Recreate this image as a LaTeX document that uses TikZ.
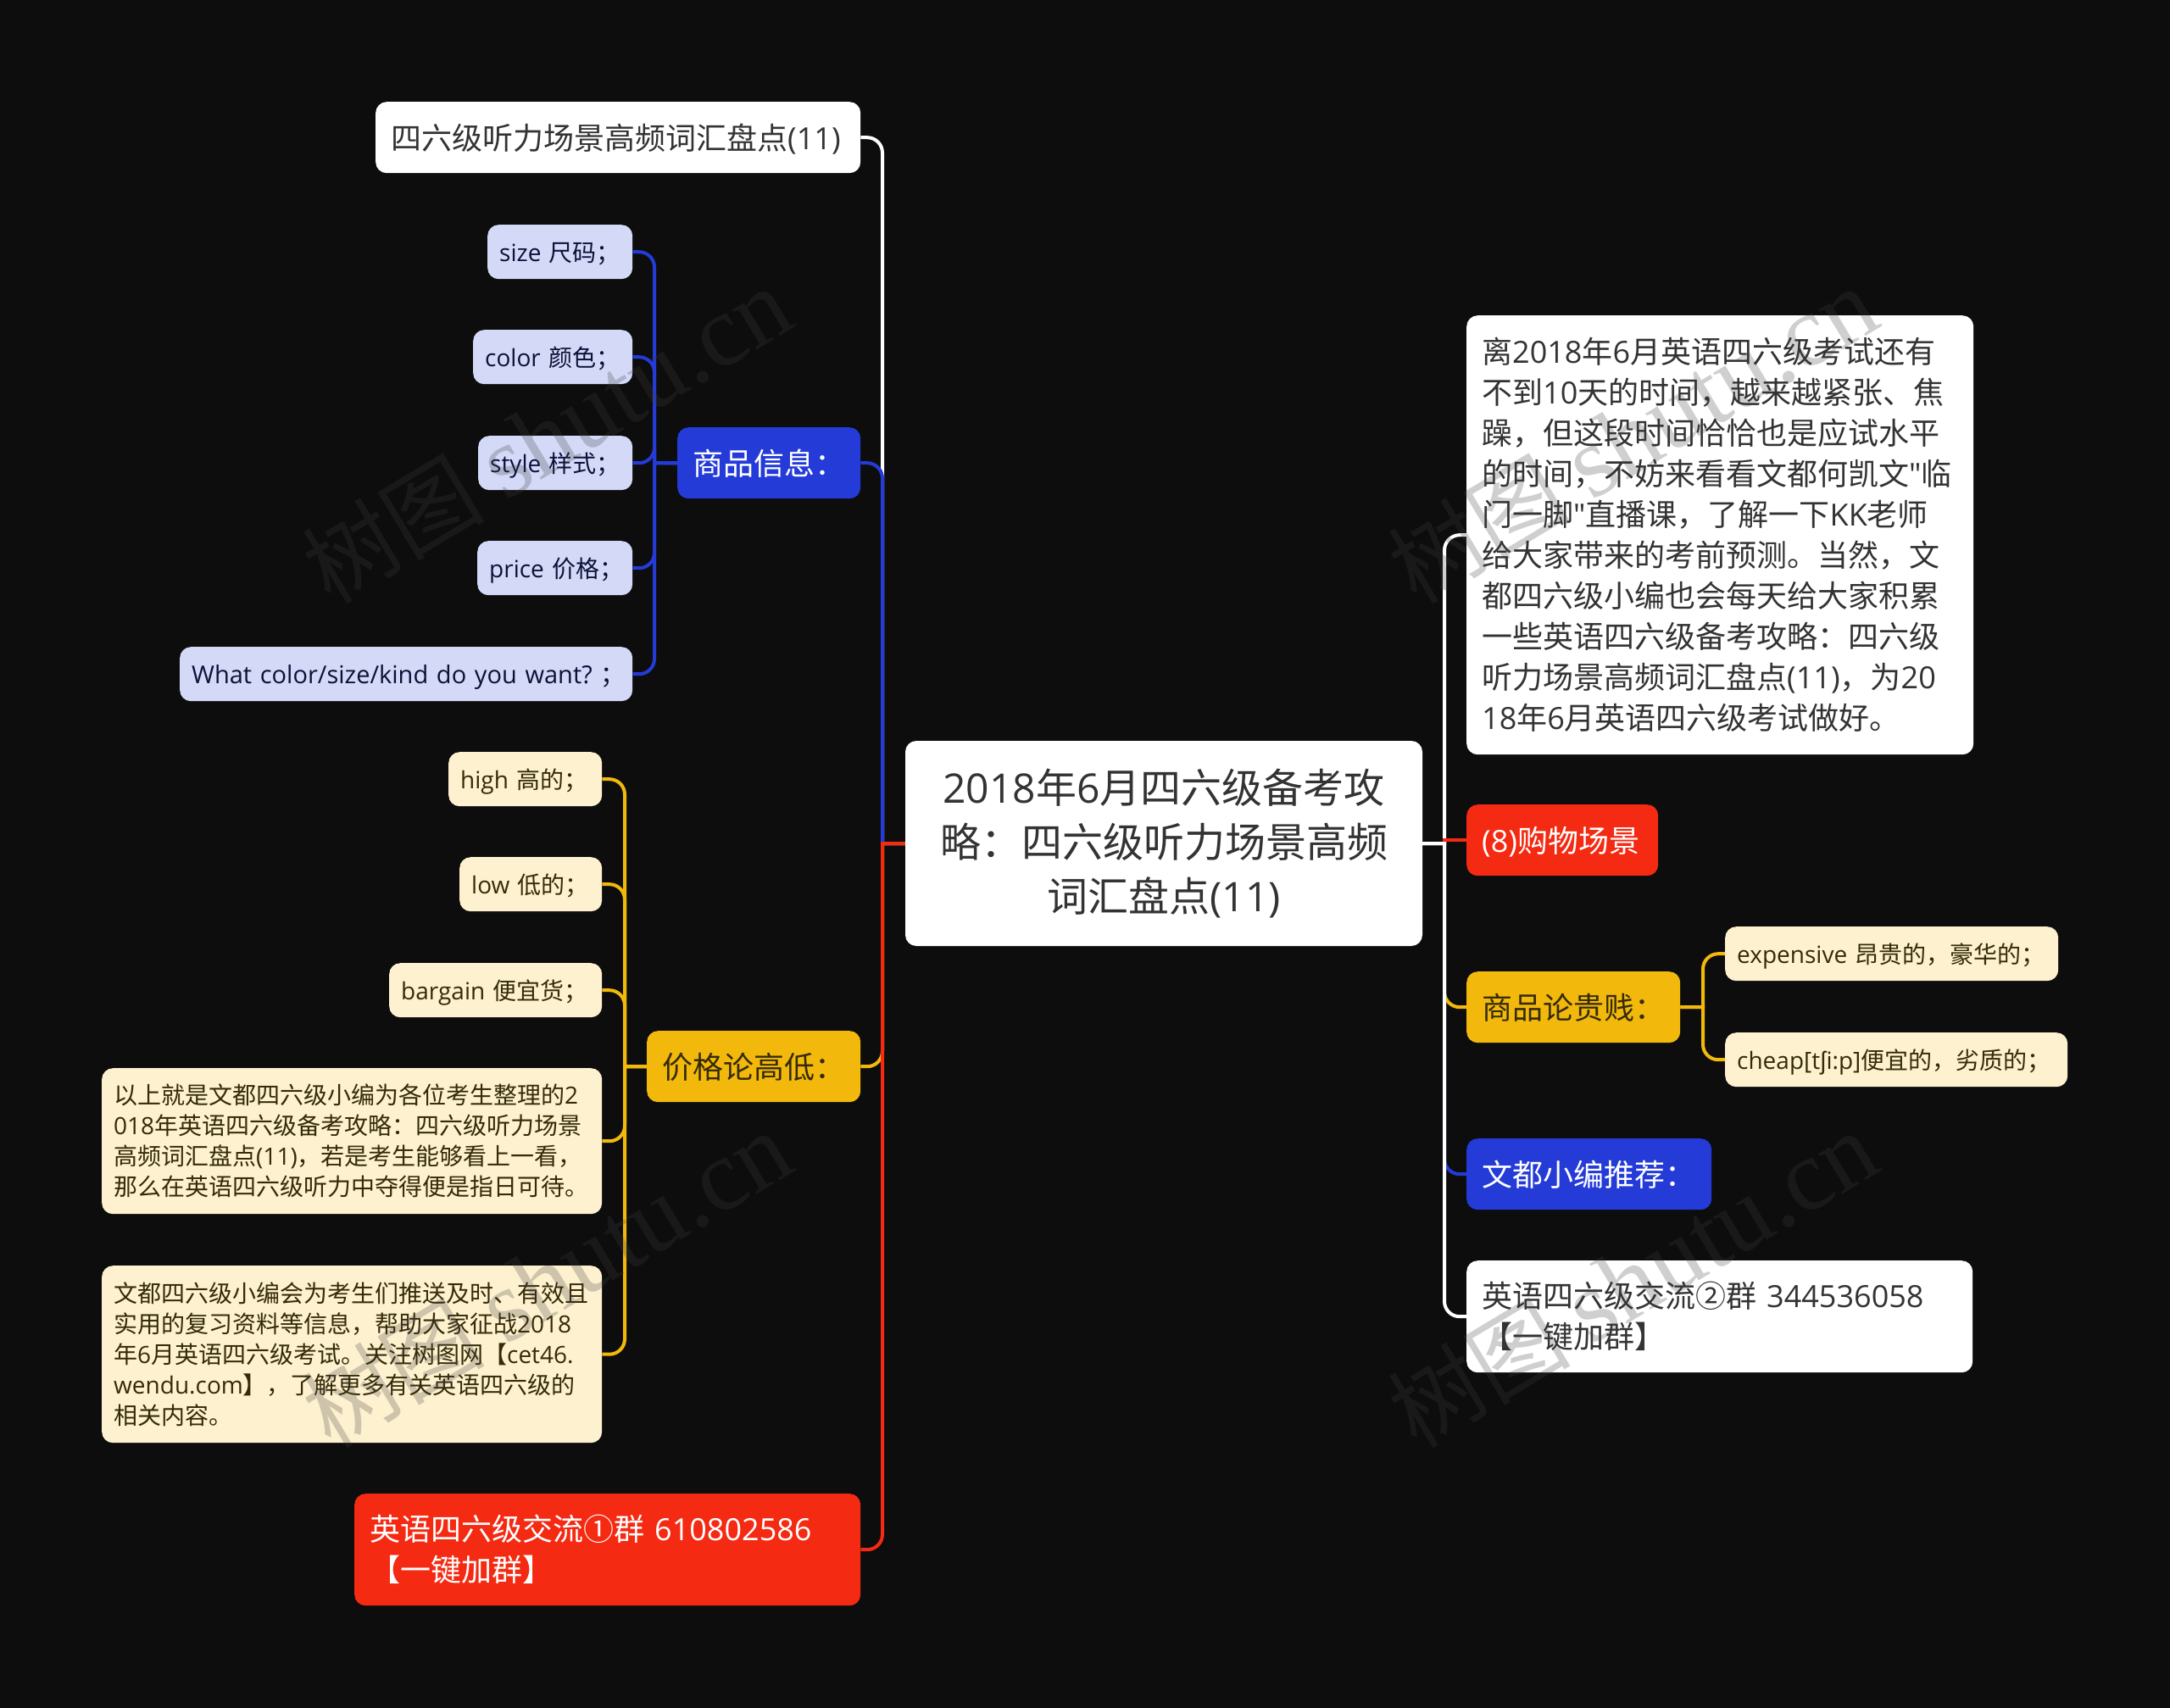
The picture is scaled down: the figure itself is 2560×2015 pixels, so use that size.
\documentclass[tikz,border=0pt]{standalone}
\usepackage{fontspec}
\setmainfont{Noto Sans CJK SC}
\newfontfamily\enfont[Ligatures=TeXReset]{Open Sans}
\newfontfamily\ipafont{Noto Sans}
\newfontfamily\markfont{Liberation Serif}
\usetikzlibrary{positioning,calc}
\definecolor{bgblack}{HTML}{0D0D0D}
\definecolor{mapblue}{HTML}{243BD8}
\definecolor{mapred}{HTML}{F42A12}
\definecolor{mapyellow}{HTML}{F2B90C}
\definecolor{leafblue}{HTML}{D3D9F7}
\definecolor{leafyellow}{HTML}{FDF1CF}
\definecolor{inkgrey}{HTML}{333333}
\definecolor{inkblue}{HTML}{0C1138}
\definecolor{inkbrown}{HTML}{352B08}
\definecolor{markgrey}{HTML}{404040}
\tikzset{
  mapbox/.style={rounded corners=13pt, anchor=north west, align=left, inner ysep=0pt, inner xsep=18pt,
    execute at begin node={\rule[-.22em]{0pt}{.98em}}},
  oneline/.style={execute at begin node={\rule{0pt}{1.04em}}},
  bigtext/.style={font=\fontsize{36pt}{48pt}\selectfont, minimum height=84pt},
  whitebox/.style={mapbox, bigtext, fill=white, text=inkgrey},
  bluebox/.style={mapbox, bigtext, fill=mapblue, text=white},
  redbox/.style={mapbox, bigtext, fill=mapred, text=white},
  yellowbox/.style={mapbox, bigtext, fill=mapyellow, text=inkbrown},
  leaf/.style={mapbox, inner xsep=14pt, font=\fontsize{28pt}{36pt}\selectfont, minimum height=64pt},
  blueleaf/.style={leaf, oneline, fill=leafblue, text=inkblue},
  yellowleaf/.style={leaf, fill=leafyellow, text=inkbrown},
  link/.style={line width=4pt},
  elbow/.style={rounded corners=18pt},
  watermark/.style={rotate=31, text=markgrey, opacity=0.25, font=\fontsize{108pt}{120pt}\selectfont}
}
\newcommand{\en}[1]{{\enfont #1}}
\newcommand{\markname}{树图 {\markfont\fontsize{120pt}{120pt}\selectfont shutu.cn}}
\begin{document}
\begin{tikzpicture}[x=1pt,y=-1pt]
    \fill[bgblack] (0,0) rectangle (2560,2015);
    \useasboundingbox (0,0) rectangle (2560,2015);

    % Root
    \node[whitebox, anchor=center, align=center, text width=574pt, minimum height=242pt, font=\fontsize{48pt}{64pt}\selectfont] (rootnode) at (1373,995)
        {\en{2018}年\en{6}月四六级备考攻\\略：四六级听力场景高频\\词汇盘点\en{(11)}};
    \coordinate (leftspine) at (1041,995);
    \coordinate (rightspine) at (1704,995);

    % Left side
    \node[whitebox, oneline, text width=536pt] (titlenode) at (443,120) {四六级听力场景高频词汇盘点\en{(11)}};
    \node[bluebox, oneline, text width=180pt] (infonode) at (799,504) {商品信息：};
    \node[yellowbox, oneline, text width=216pt] (pricenode) at (763,1216) {价格论高低：};
    \node[redbox, text width=561pt, minimum height=132pt] (groupone) at (418,1762)
        {英语四六级交流①群 \en{610802586}\\【一键加群】};

    % Product leaves
    \coordinate (bluespine) at (772,546);
    \node[blueleaf, text width=143pt] (kidsize) at (575,265) {\en{size}~尺码；};
    \node[blueleaf, text width=160pt] (kidcolor) at (558,389) {\en{color}~颜色；};
    \node[blueleaf, text width=154pt] (kidstyle) at (564,514) {\en{style}~样式；};
    \node[blueleaf, text width=155pt] (kidprice) at (563,638) {\en{price}~价格；};
    \node[blueleaf, text width=506pt, font=\fontsize{29pt}{36pt}\selectfont] (kidwant) at (212,763) {\mbox{\en{What color/size/kind do you want?}~；}};

    % Price leaves
    \coordinate (yellowspine) at (737,1258);
    \node[yellowleaf, oneline, text width=153pt] (kidhigh) at (529,887) {\en{high}~高的；};
    \node[yellowleaf, oneline, text width=140pt] (kidlow) at (542,1011) {\en{low}~低的；};
    \node[yellowleaf, oneline, text width=223pt] (kidbargain) at (459,1136) {\en{bargain}~便宜货；};
    \node[yellowleaf, text width=562pt, minimum height=172pt] (kidsummary) at (120,1260)
        {以上就是文都四六级小编为各位考生整理的\en{2}\\\en{018}年英语四六级备考攻略：四六级听力场景\\高频词汇盘点\en{(11)}，若是考生能够看上一看，\\那么在英语四六级听力中夺得便是指日可待。};
    \node[yellowleaf, text width=562pt, minimum height=209pt] (kidnotice) at (120,1493)
        {文都四六级小编会为考生们推送及时、有效且\\实用的复习资料等信息，帮助大家征战\en{2018}\\年\en{6}月英语四六级考试。关注树图网【\en{cet46.}\\\en{wendu.com}】，了解更多有关英语四六级的\\相关内容。};

    % Right side
    \node[whitebox, text width=562pt, minimum height=518pt] (intronode) at (1730,372)
        {离\en{2018}年\en{6}月英语四六级考试还有\\不到\en{10}天的时间，越来越紧张、焦\\躁，但这段时间恰恰也是应试水平\\的时间，不妨来看看文都何凯文\en{"}临\\门一脚\en{"}直播课，了解一下\en{KK}老师\\给大家带来的考前预测。当然，文\\都四六级小编也会每天给大家积累\\一些英语四六级备考攻略：四六级\\听力场景高频词汇盘点\en{(11)}，为\en{20}\\\en{18}年\en{6}月英语四六级考试做好。};
    \node[redbox, oneline, text width=190pt] (scenenode) at (1730,949) {\en{(8)}购物场景};
    \node[yellowbox, oneline, text width=216pt] (costnode) at (1730,1146) {商品论贵贱：};
    \node[bluebox, oneline, text width=253pt] (editornode) at (1730,1343) {文都小编推荐：};
    \node[whitebox, text width=561pt, minimum height=132pt] (grouptwo) at (1730,1487)
        {英语四六级交流②群 \en{344536058}\\【一键加群】};
    \coordinate (costspine) at (2009,1188);
    \node[yellowleaf, oneline, text width=365pt] (kidexpensive) at (2035,1093) {\en{expensive}~昂贵的，豪华的；};
    \node[yellowleaf, oneline, text width=376pt] (kidcheap) at (2035,1218) {\en{cheap[t}{\ipafont ʃ}\en{i:p]}便宜的，劣质的；};

    % Left links
    \draw[link, white] (rootnode.west) -- (leftspine) [elbow] |- (titlenode.east);
    \draw[link, mapblue] (rootnode.west) -- (leftspine) [elbow] |- (infonode.east);
    \draw[link, mapyellow] (rootnode.west) -- (leftspine) [elbow] |- (pricenode.east);
    \draw[link, mapred] (rootnode.west) -- (leftspine) [elbow] |- (groupone.east);
    \foreach \kid in {kidsize,kidcolor,kidstyle,kidprice,kidwant}
        \draw[link, mapblue] (infonode.west) -- (bluespine) [elbow] |- (\kid.east);
    \foreach \kid in {kidhigh,kidlow,kidbargain,kidsummary,kidnotice}
        \draw[link, mapyellow] (pricenode.west) -- (yellowspine) [elbow] |- (\kid.east);

    % Right links
    \draw[link, white] (rootnode.east) -- (rightspine) [elbow] |- (intronode.west);
    \draw[link, mapred] (rightspine) |- (scenenode.west);
    \draw[link, mapyellow] (rootnode.east) -- (rightspine) [elbow] |- (costnode.west);
    \draw[link, mapblue] (rootnode.east) -- (rightspine) [elbow] |- (editornode.west);
    \draw[link, white] (rootnode.east) -- (rightspine) [elbow] |- (grouptwo.west);
    \foreach \kid in {kidexpensive,kidcheap}
        \draw[link, mapyellow] (costnode.east) -- (costspine) [elbow] |- (\kid.west);

    % Watermarks
    \node[watermark] (marka) at (645,514) {\markname};
    \node[watermark] (markb) at (1926,514) {\markname};
    \node[watermark] (markc) at (645,1510) {\markname};
    \node[watermark] (markd) at (1926,1510) {\markname};
\end{tikzpicture}
\end{document}
